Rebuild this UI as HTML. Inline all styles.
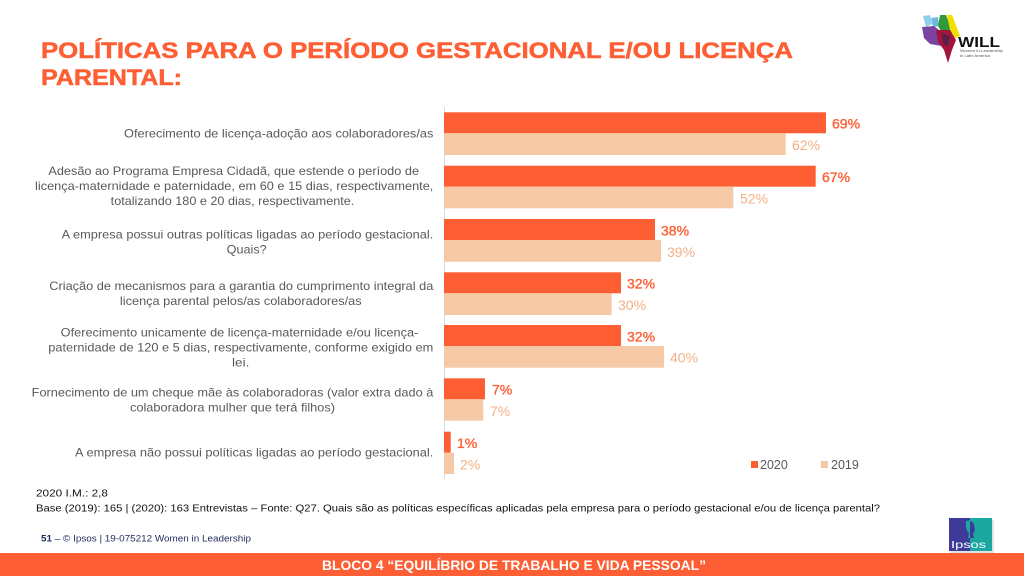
<!DOCTYPE html>
<html>
<head>
<meta charset="utf-8">
<style>
  html, body { margin: 0; padding: 0; background: #ffffff; }
  body { width: 1024px; height: 576px; overflow: hidden; }
  svg { display: block; }
  text { font-family: "Liberation Sans", Arial, sans-serif; }
</style>
</head>
<body>
<svg width="1024" height="576" viewBox="0 0 1024 576" xmlns="http://www.w3.org/2000/svg">
  <rect x="0" y="0" width="1024" height="576" fill="#ffffff"/>

  <!-- Title -->
  <text x="41" y="58" font-size="22.5" font-weight="bold" fill="#FD5E33" stroke="#FD5E33" stroke-width="0.5" textLength="752" lengthAdjust="spacingAndGlyphs">POLÍTICAS PARA O PERÍODO GESTACIONAL E/OU LICENÇA</text>
  <text x="41" y="85" font-size="22.5" font-weight="bold" fill="#FD5E33" stroke="#FD5E33" stroke-width="0.5" textLength="141" lengthAdjust="spacingAndGlyphs">PARENTAL:</text>

  <!-- WILL logo -->
  <g>
    <polygon points="923,16 930,15 932,24 926,27" fill="#8FD0EE"/>
    <polygon points="931,18 938,17 939,26 933,27" fill="#6FB8E0"/>
    <polygon points="940,15 946,15 953,33 944,36 938,26" fill="#2E9A3A"/>
    <polygon points="947,15 952,15 960,36 955,38 950,30" fill="#F2E100"/>
    <polygon points="922,27 934,26 944,34 942,46 930,44 924,38" fill="#7B44A0"/>
    <polygon points="936,30 950,30 956,40 952,50 948,63 944,50 938,42" fill="#A3163C"/>
    <polygon points="942,33 950,36 948,46 943,44" fill="#5A1F4C"/>
    <text x="958" y="47" font-size="15" font-weight="bold" fill="#111111" textLength="42" lengthAdjust="spacingAndGlyphs">WILL</text>
    <text x="960" y="52" font-size="4" fill="#555555" textLength="43" lengthAdjust="spacingAndGlyphs">Women in Leadership</text>
    <text x="960" y="57" font-size="4" fill="#555555" textLength="30" lengthAdjust="spacingAndGlyphs">in Latin America</text>
  </g>

  <!-- Axis line -->
  <line x1="444.5" y1="107" x2="444.5" y2="479" stroke="#D9D9D9" stroke-width="1"/>

  <!-- Bars -->
  <g>
    <rect x="444" y="112.3" width="382" height="21" fill="#FD5E33"/>
    <rect x="444" y="133.3" width="341.7" height="21.7" fill="#F6C9A6"/>
    <rect x="444" y="165.7" width="371.7" height="21" fill="#FD5E33"/>
    <rect x="444" y="186.7" width="289.3" height="21.6" fill="#F6C9A6"/>
    <rect x="444" y="219" width="211" height="21" fill="#FD5E33"/>
    <rect x="444" y="240" width="217" height="21.7" fill="#F6C9A6"/>
    <rect x="444" y="272.3" width="177" height="21" fill="#FD5E33"/>
    <rect x="444" y="293.3" width="167.7" height="21.7" fill="#F6C9A6"/>
    <rect x="444" y="325" width="177" height="21" fill="#FD5E33"/>
    <rect x="444" y="346" width="220" height="21.7" fill="#F6C9A6"/>
    <rect x="444" y="378.3" width="41" height="21" fill="#FD5E33"/>
    <rect x="444" y="399.3" width="39.3" height="21.4" fill="#F6C9A6"/>
    <rect x="444" y="431.7" width="6.7" height="21" fill="#FD5E33"/>
    <rect x="444" y="452.7" width="10" height="21.3" fill="#F6C9A6"/>
  </g>

  <!-- Value labels -->
  <g font-size="14">
    <g fill="#FD5E33" stroke="#FD5E33" stroke-width="0.35">
      <text x="832" y="128.5">69%</text>
      <text x="822" y="182">67%</text>
      <text x="661" y="235.3">38%</text>
      <text x="627" y="288.6">32%</text>
      <text x="627" y="341.3">32%</text>
      <text x="492" y="394.6">7%</text>
      <text x="457" y="448">1%</text>
    </g>
    <g fill="#F4AF84">
      <text x="792" y="150">62%</text>
      <text x="740" y="203.5">52%</text>
      <text x="667" y="256.8">39%</text>
      <text x="618" y="310">30%</text>
      <text x="670" y="362.7">40%</text>
      <text x="490" y="416">7%</text>
      <text x="460" y="469.5">2%</text>
    </g>
  </g>

  <!-- Category labels -->
  <g font-size="12" fill="#595959" text-anchor="middle">
    <text x="278.7" y="137.3" textLength="309.3" lengthAdjust="spacingAndGlyphs">Oferecimento de licença-adoção aos colaboradores/as</text>

    <text x="233.7" y="175" textLength="370.7" lengthAdjust="spacingAndGlyphs">Adesão ao Programa Empresa Cidadã, que estende o período de</text>
    <text x="234.2" y="190" textLength="398.3" lengthAdjust="spacingAndGlyphs">licença-maternidade e paternidade, em 60 e 15 dias, respectivamente,</text>
    <text x="232.5" y="205" textLength="243.6" lengthAdjust="spacingAndGlyphs">totalizando 180 e 20 dias, respectivamente.</text>

    <text x="247.5" y="238.3" textLength="371.6" lengthAdjust="spacingAndGlyphs">A empresa possui outras políticas ligadas ao período gestacional.</text>
    <text x="246.7" y="253.3" textLength="40" lengthAdjust="spacingAndGlyphs">Quais?</text>

    <text x="241.3" y="290" textLength="384" lengthAdjust="spacingAndGlyphs">Criação de mecanismos para a garantia do cumprimento integral da</text>
    <text x="240.8" y="305" textLength="241.7" lengthAdjust="spacingAndGlyphs">licença parental pelos/as colaboradores/as</text>

    <text x="239.5" y="336.7" textLength="357.6" lengthAdjust="spacingAndGlyphs">Oferecimento unicamente de licença-maternidade e/ou licença-</text>
    <text x="240.8" y="351.7" textLength="385" lengthAdjust="spacingAndGlyphs">paternidade de 120 e 5 dias, respectivamente, conforme exigido em</text>
    <text x="240.7" y="366.5" textLength="17.3" lengthAdjust="spacingAndGlyphs">lei.</text>

    <text x="232.5" y="396.7" textLength="401.6" lengthAdjust="spacingAndGlyphs">Fornecimento de um cheque mãe às colaboradoras (valor extra dado à</text>
    <text x="232.5" y="411.7" textLength="205" lengthAdjust="spacingAndGlyphs">colaboradora mulher que terá filhos)</text>

    <text x="254.2" y="456.7" textLength="358.3" lengthAdjust="spacingAndGlyphs">A empresa não possui políticas ligadas ao período gestacional.</text>
  </g>

  <!-- Legend -->
  <rect x="751" y="461" width="7" height="7" fill="#FD5E33"/>
  <text x="760" y="469" font-size="12.5" fill="#595959">2020</text>
  <rect x="821" y="461" width="7" height="7" fill="#F6C9A6"/>
  <text x="831" y="469" font-size="12.5" fill="#595959">2019</text>

  <!-- Footnotes -->
  <text x="36" y="496.7" font-size="10.5" fill="#111111" textLength="72" lengthAdjust="spacingAndGlyphs">2020 I.M.: 2,8</text>
  <text x="36" y="511.7" font-size="10.5" fill="#111111" textLength="844" lengthAdjust="spacingAndGlyphs">Base (2019): 165 | (2020): 163 Entrevistas – Fonte: Q27. Quais são as políticas específicas aplicadas pela empresa para o período gestacional e/ou de licença parental?</text>

  <!-- Page footer -->
  <text x="41" y="541.5" font-size="9.5" fill="#1F2A5C" textLength="210" lengthAdjust="spacingAndGlyphs"><tspan font-weight="bold">51</tspan> –  © Ipsos | 19-075212 Women in Leadership</text>

  <!-- Ipsos logo -->
  <g>
    <rect x="951" y="520" width="43" height="34" fill="#cfcfcf" opacity="0.6"/>
    <rect x="949" y="518" width="21" height="33" fill="#3D3A9A"/>
    <rect x="970" y="518" width="22" height="33" fill="#1BA8A0"/>
    <path d="M966,521 q5,-2 8,2 q2,5 -1,9 l1,6 l-6,0 l1,-5 q-4,-3 -3,-12 z" fill="#1BA8A0"/>
    <path d="M970,521 q4,1 4,4 q2,5 -1,9 l1,4 l-4,0 z" fill="#3D3A9A"/>
    <text x="951" y="548" font-size="10.5" fill="#ffffff" textLength="35" lengthAdjust="spacingAndGlyphs">Ipsos</text>
  </g>

  <!-- Bottom orange bar -->
  <rect x="0" y="553" width="1024" height="23" fill="#FD5E33"/>
  <text x="322" y="570" font-size="14" font-weight="bold" fill="#ffffff" textLength="384" lengthAdjust="spacingAndGlyphs">BLOCO 4 “EQUILÍBRIO DE TRABALHO E VIDA PESSOAL”</text>
</svg>
</body>
</html>
